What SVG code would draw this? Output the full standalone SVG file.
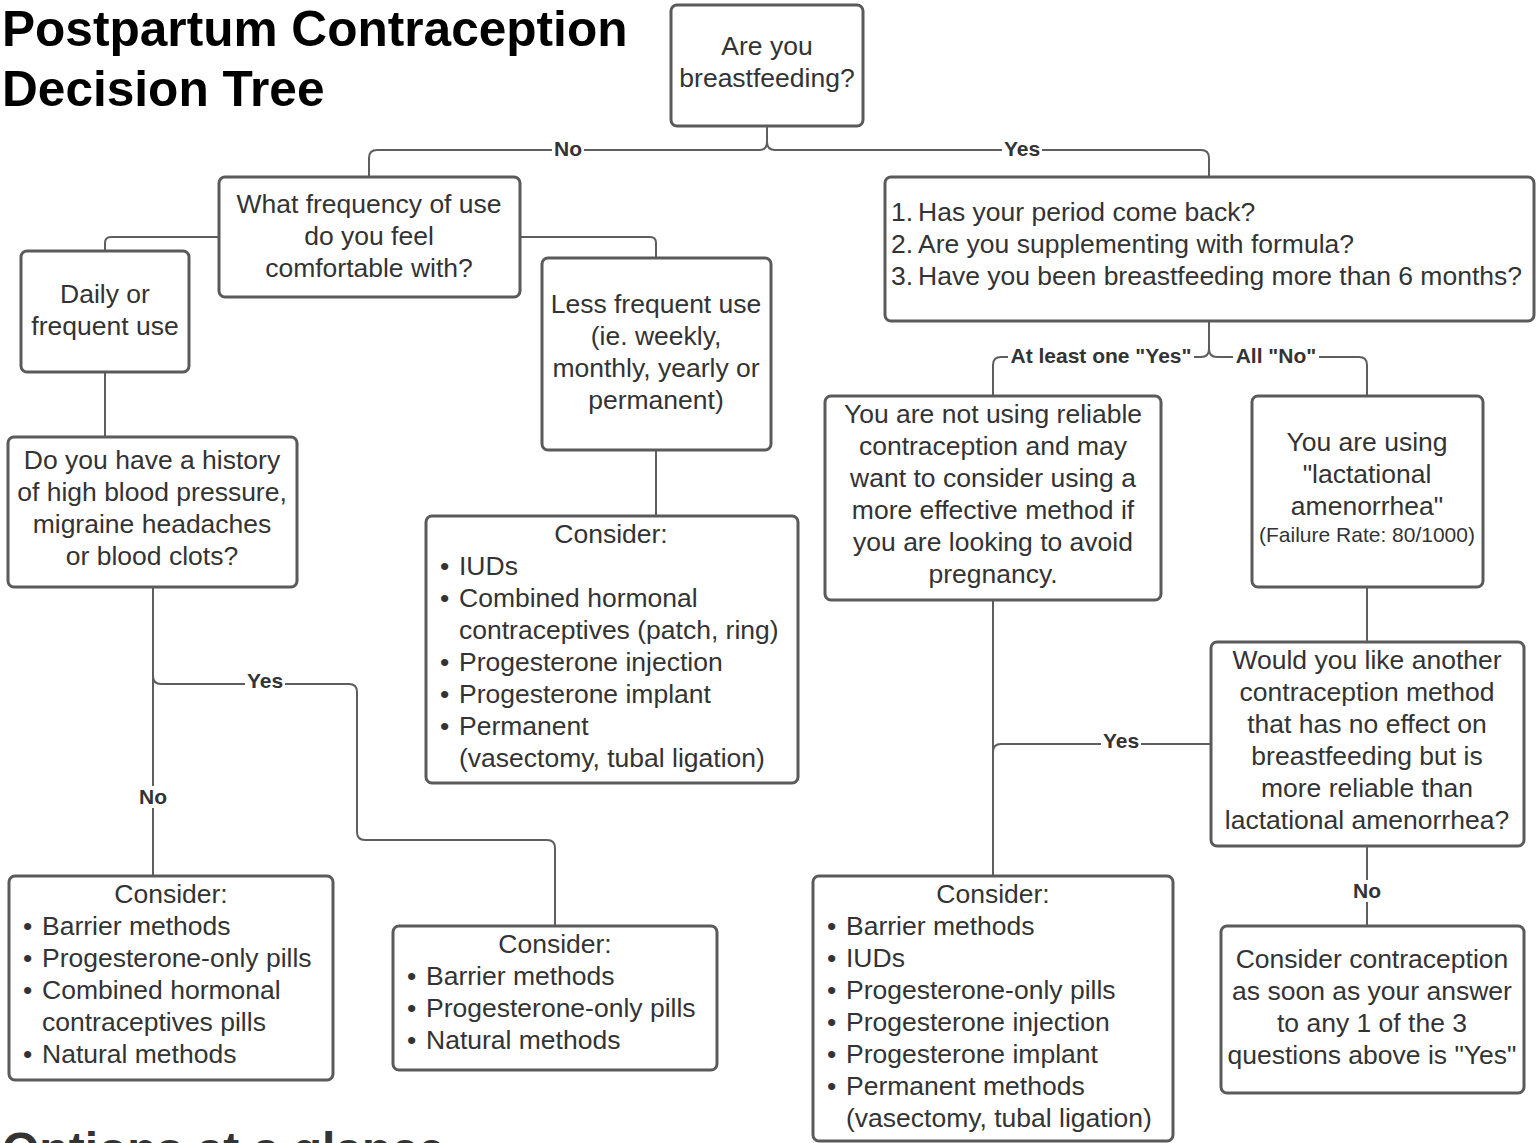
<svg xmlns="http://www.w3.org/2000/svg" width="1539" height="1143" viewBox="0 0 1539 1143">
<style>
.box{fill:#fff;stroke:#5a5a5a;stroke-width:3}
.t{font-family:"Liberation Sans",Arial,sans-serif;font-size:26.5px;fill:#333}
.c{text-anchor:middle}
.sm{font-size:21px}
.lbl{font-family:"Liberation Sans",Arial,sans-serif;font-size:21px;font-weight:bold;fill:#333;text-anchor:middle}
.lb{fill:#fff}
.ln{fill:none;stroke:#5e5e5e;stroke-width:2}
.title{font-family:"Liberation Sans",Arial,sans-serif;font-size:49.6px;font-weight:bold;fill:#000}
</style>
<rect width="1539" height="1143" fill="#fff"/>
<text class="title" x="2" y="46">Postpartum Contraception</text>
<text class="title" x="2" y="106">Decision Tree</text>
<text x="2" y="1166" font-family="'Liberation Sans',Arial,sans-serif" font-size="48" font-weight="bold" fill="#333">Options at a glance</text>

<g id="connectors">
<path class="ln" d="M767,126 V142 Q767,150 759,150 H377 Q369,150 369,158 V177"/>
<path class="ln" d="M767,126 V142 Q767,150 775,150 H1201 Q1209,150 1209,158 V177"/>
<path class="ln" d="M219,237 H111 Q105,237 105,243 V251"/>
<path class="ln" d="M520,237 H650 Q656,237 656,243 V258"/>
<path class="ln" d="M105,372 V437"/>
<path class="ln" d="M656,450 V516"/>
<path class="ln" d="M153,587 V876"/>
<path class="ln" d="M153,587 V676 Q153,684 161,684 H349 Q357,684 357,692 V832 Q357,840 365,840 H547 Q555,840 555,848 V926"/>
<path class="ln" d="M1209,321 V349 Q1209,357 1201,357 H1001 Q993,357 993,365 V396"/>
<path class="ln" d="M1209,321 V349 Q1209,357 1217,357 H1359 Q1367,357 1367,365 V396"/>
<path class="ln" d="M993,600 V876"/>
<path class="ln" d="M1211,744 H1001 Q993,744 993,752"/>
<path class="ln" d="M1367,587 V642"/>
<path class="ln" d="M1367,846 V926"/>
<rect class="lb" x="552" y="139" width="32" height="22"/>
<text class="lbl" x="568" y="156">No</text>
<rect class="lb" x="1002" y="139" width="40" height="22"/>
<text class="lbl" x="1022" y="156">Yes</text>
<rect class="lb" x="245" y="671" width="40" height="22"/>
<text class="lbl" x="265" y="688">Yes</text>
<rect class="lb" x="137" y="786" width="32" height="22"/>
<text class="lbl" x="153" y="804">No</text>
<rect class="lb" x="1008" y="346" width="186" height="22"/>
<text class="lbl" x="1101" y="363">At least one "Yes"</text>
<rect class="lb" x="1233" y="346" width="86" height="22"/>
<text class="lbl" x="1276" y="363">All "No"</text>
<rect class="lb" x="1101" y="731" width="40" height="22"/>
<text class="lbl" x="1121" y="748">Yes</text>
<rect class="lb" x="1351" y="880" width="32" height="22"/>
<text class="lbl" x="1367" y="898">No</text>
</g>

<g id="n1">
<rect class="box" x="671" y="5" width="192" height="121" rx="6"/>
<text class="t c" x="767" y="55">Are you</text>
<text class="t c" x="767" y="87">breastfeeding?</text>
</g>
<g id="n2">
<rect class="box" x="219" y="177" width="301" height="120" rx="6"/>
<text class="t c" x="369" y="213">What frequency of use</text>
<text class="t c" x="369" y="245">do you feel</text>
<text class="t c" x="369" y="277">comfortable with?</text>
</g>
<g id="n3">
<rect class="box" x="21" y="251" width="168" height="121" rx="6"/>
<text class="t c" x="105" y="303">Daily or</text>
<text class="t c" x="105" y="335">frequent use</text>
</g>
<g id="n4">
<rect class="box" x="542" y="258" width="229" height="192" rx="6"/>
<text class="t c" x="656" y="313">Less frequent use</text>
<text class="t c" x="656" y="345">(ie. weekly,</text>
<text class="t c" x="656" y="377">monthly, yearly or</text>
<text class="t c" x="656" y="409">permanent)</text>
</g>
<g id="n5">
<rect class="box" x="8" y="437" width="289" height="150" rx="6"/>
<text class="t c" x="152" y="469">Do you have a history</text>
<text class="t c" x="152" y="501">of high blood pressure,</text>
<text class="t c" x="152" y="533">migraine headaches</text>
<text class="t c" x="152" y="565">or blood clots?</text>
</g>
<g id="n6">
<rect class="box" x="426" y="516" width="372" height="267" rx="6"/>
<text class="t c" x="611" y="543">Consider:</text>
<text class="t" x="440" y="575">•</text><text class="t" x="459" y="575">IUDs</text>
<text class="t" x="440" y="607">•</text><text class="t" x="459" y="607">Combined hormonal</text>
<text class="t" x="459" y="639">contraceptives (patch, ring)</text>
<text class="t" x="440" y="671">•</text><text class="t" x="459" y="671">Progesterone injection</text>
<text class="t" x="440" y="703">•</text><text class="t" x="459" y="703">Progesterone implant</text>
<text class="t" x="440" y="735">•</text><text class="t" x="459" y="735">Permanent</text>
<text class="t" x="459" y="767">(vasectomy, tubal ligation)</text>
</g>
<g id="n7">
<rect class="box" x="9" y="876" width="324" height="204" rx="6"/>
<text class="t c" x="171" y="903">Consider:</text>
<text class="t" x="23" y="935">•</text><text class="t" x="42" y="935">Barrier methods</text>
<text class="t" x="23" y="967">•</text><text class="t" x="42" y="967">Progesterone-only pills</text>
<text class="t" x="23" y="999">•</text><text class="t" x="42" y="999">Combined hormonal</text>
<text class="t" x="42" y="1031">contraceptives pills</text>
<text class="t" x="23" y="1063">•</text><text class="t" x="42" y="1063">Natural methods</text>
</g>
<g id="n8">
<rect class="box" x="393" y="926" width="324" height="144" rx="6"/>
<text class="t c" x="555" y="953">Consider:</text>
<text class="t" x="407" y="985">•</text><text class="t" x="426" y="985">Barrier methods</text>
<text class="t" x="407" y="1017">•</text><text class="t" x="426" y="1017">Progesterone-only pills</text>
<text class="t" x="407" y="1049">•</text><text class="t" x="426" y="1049">Natural methods</text>
</g>
<g id="n9">
<rect class="box" x="885" y="177" width="649" height="144" rx="6"/>
<text class="t" x="891" y="221">1.</text><text class="t" x="918" y="221">Has your period come back?</text>
<text class="t" x="891" y="253">2.</text><text class="t" x="918" y="253">Are you supplementing with formula?</text>
<text class="t" x="891" y="285">3.</text><text class="t" x="918" y="285">Have you been breastfeeding more than 6 months?</text>
</g>
<g id="n10">
<rect class="box" x="825" y="396" width="336" height="204" rx="6"/>
<text class="t c" x="993" y="423">You are not using reliable</text>
<text class="t c" x="993" y="455">contraception and may</text>
<text class="t c" x="993" y="487">want to consider using a</text>
<text class="t c" x="993" y="519">more effective method if</text>
<text class="t c" x="993" y="551">you are looking to avoid</text>
<text class="t c" x="993" y="583">pregnancy.</text>
</g>
<g id="n11">
<rect class="box" x="1252" y="396" width="231" height="191" rx="6"/>
<text class="t c" x="1367" y="451">You are using</text>
<text class="t c" x="1367" y="483">"lactational</text>
<text class="t c" x="1367" y="515">amenorrhea"</text>
<text class="t c sm" x="1367" y="542">(Failure Rate: 80/1000)</text>
</g>
<g id="n12">
<rect class="box" x="1211" y="642" width="313" height="204" rx="6"/>
<text class="t c" x="1367" y="669">Would you like another</text>
<text class="t c" x="1367" y="701">contraception method</text>
<text class="t c" x="1367" y="733">that has no effect on</text>
<text class="t c" x="1367" y="765">breastfeeding but is</text>
<text class="t c" x="1367" y="797">more reliable than</text>
<text class="t c" x="1367" y="829">lactational amenorrhea?</text>
</g>
<g id="n13">
<rect class="box" x="813" y="876" width="360" height="265" rx="6"/>
<text class="t c" x="993" y="903">Consider:</text>
<text class="t" x="827" y="935">•</text><text class="t" x="846" y="935">Barrier methods</text>
<text class="t" x="827" y="967">•</text><text class="t" x="846" y="967">IUDs</text>
<text class="t" x="827" y="999">•</text><text class="t" x="846" y="999">Progesterone-only pills</text>
<text class="t" x="827" y="1031">•</text><text class="t" x="846" y="1031">Progesterone injection</text>
<text class="t" x="827" y="1063">•</text><text class="t" x="846" y="1063">Progesterone implant</text>
<text class="t" x="827" y="1095">•</text><text class="t" x="846" y="1095">Permanent methods</text>
<text class="t" x="846" y="1127">(vasectomy, tubal ligation)</text>
</g>
<g id="n14">
<rect class="box" x="1221" y="926" width="303" height="167" rx="6"/>
<text class="t c" x="1372" y="968">Consider contraception</text>
<text class="t c" x="1372" y="1000">as soon as your answer</text>
<text class="t c" x="1372" y="1032">to any 1 of the 3</text>
<text class="t c" x="1372" y="1064">questions above is "Yes"</text>
</g>
</svg>
